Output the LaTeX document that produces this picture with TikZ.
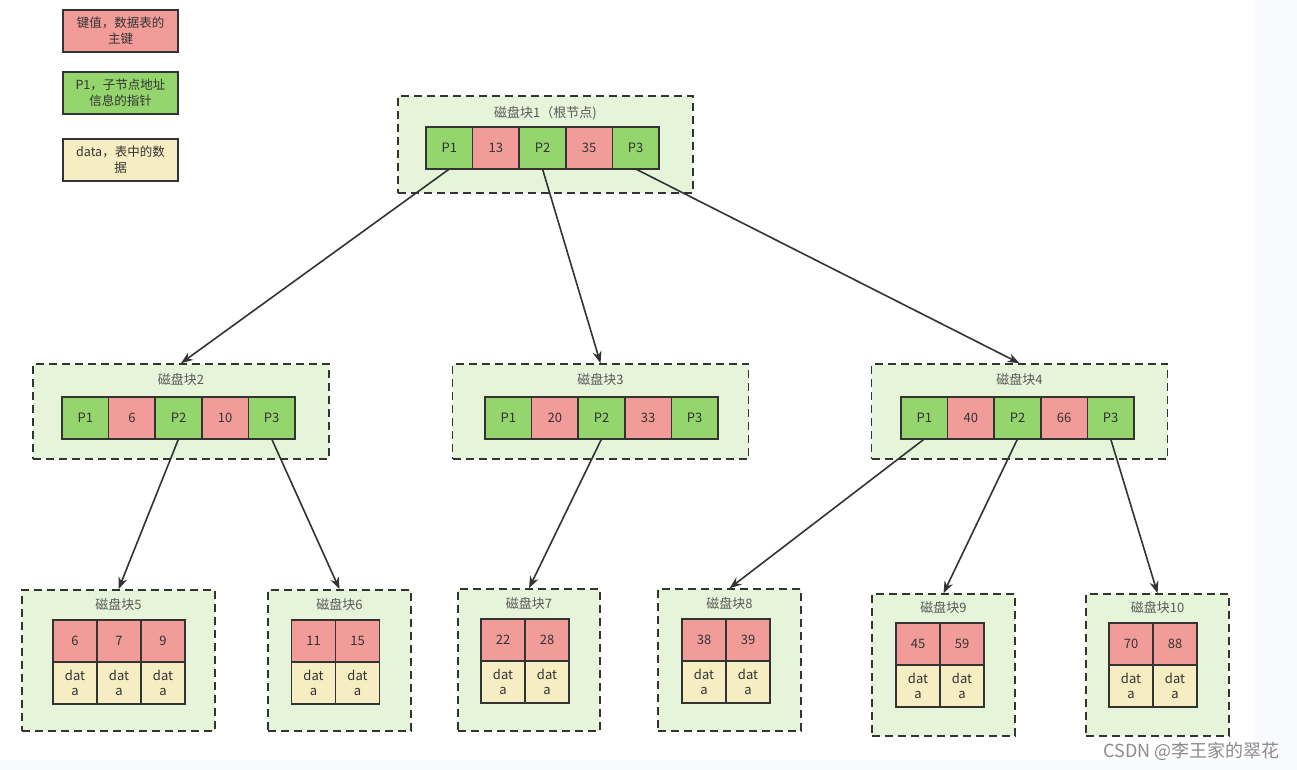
\documentclass[tikz,border=0pt]{standalone}
\usepackage{fontspec}
\setmainfont{Noto Sans CJK SC}
\usetikzlibrary{positioning,arrows.meta}
\definecolor{keyRed}{HTML}{F19C99}
\definecolor{ptrGreen}{HTML}{94D56E}
\definecolor{dataYellow}{HTML}{F7EDC2}
\definecolor{blockFill}{HTML}{E6F4D9}
\definecolor{lineDark}{HTML}{333333}
\definecolor{pageTint}{HTML}{F9FAFE}

\begin{document}
\begin{tikzpicture}[
    x=1pt, y=-1pt,
    cell/.style={rectangle, draw=lineDark, line width=1.5pt, outer sep=0pt, inner sep=0pt, minimum width=46.6pt, minimum height=42pt, text=lineDark, font=\fontsize{13}{15}\selectfont},
    keycell/.style={cell, fill=keyRed},
    ptrcell/.style={cell, fill=ptrGreen},
    leafkey/.style={keycell, minimum width=44pt},
    datacell/.style={cell, fill=dataYellow, minimum width=44pt, align=center},
    block/.style={rectangle, draw=lineDark, fill=blockFill, line width=1.5pt, dash pattern=on 8pt off 5pt},
    blocktitle/.style={text=black!65, font=\fontsize{13}{15}\selectfont},
    legendbox/.style={cell, minimum width=115pt, align=center, font=\fontsize{12.5}{16}\selectfont},
    arrow/.style={-{Stealth[length=12pt,width=9pt]}, line width=1.6pt, draw=lineDark}
]

\useasboundingbox (0,0) rectangle (1297,770);
\fill[white] (0,0) rectangle (1297,770);
\fill[pageTint] (1254,0) rectangle (1297,770);
\fill[pageTint] (0,760) rectangle (1297,770);

% legend
\node[legendbox, fill=keyRed] (lgkey) at (120.5,31) {键值，数据表的\\主键};
\node[legendbox, fill=ptrGreen] (lgptr) at (120.5,93) {P1，子节点地址\\信息的指针};
\node[legendbox, fill=dataYellow] (lgdata) at (120.5,160) {data，表中的数\\据};

% root
\node[block, minimum width=295pt, minimum height=97pt] (blk1) at (545.5,144.5) {};
\node[blocktitle] (t1) at (545.5,113) {磁盘块1（根节点)};
\node[ptrcell] (r1) at (449.3,148) {P1};
\node[keycell, right=0pt of r1] (r2) {13};
\node[ptrcell, right=0pt of r2] (r3) {P2};
\node[keycell, right=0pt of r3] (r4) {35};
\node[ptrcell, right=0pt of r4] (r5) {P3};

% second level
\node[block, minimum width=296pt, minimum height=95pt] (blk2) at (181,411.5) {};
\node[blocktitle] (t2) at (181,380) {磁盘块2};
\node[ptrcell] (a1) at (85.3,418) {P1};
\node[keycell, right=0pt of a1] (a2) {6};
\node[ptrcell, right=0pt of a2] (a3) {P2};
\node[keycell, right=0pt of a3] (a4) {10};
\node[ptrcell, right=0pt of a4] (a5) {P3};

\node[block, minimum width=296pt, minimum height=95pt] (blk3) at (600.5,411.5) {};
\node[blocktitle] (t3) at (600.5,380) {磁盘块3};
\node[ptrcell] (b1) at (508.3,418) {P1};
\node[keycell, right=0pt of b1] (b2) {20};
\node[ptrcell, right=0pt of b2] (b3) {P2};
\node[keycell, right=0pt of b3] (b4) {33};
\node[ptrcell, right=0pt of b4] (b5) {P3};

\node[block, minimum width=296pt, minimum height=95pt] (blk4) at (1019.5,411.5) {};
\node[blocktitle] (t4) at (1019.5,380) {磁盘块4};
\node[ptrcell] (c1) at (924.3,418) {P1};
\node[keycell, right=0pt of c1] (c2) {40};
\node[ptrcell, right=0pt of c2] (c3) {P2};
\node[keycell, right=0pt of c3] (c4) {66};
\node[ptrcell, right=0pt of c4] (c5) {P3};

% leaves
\node[block, minimum width=193pt, minimum height=141pt] (blk5) at (118.5,660.5) {};
\node[blocktitle] (t5) at (118.5,605) {磁盘块5};
\node[leafkey] (k51) at (75,641) {6};
\node[leafkey, right=0pt of k51] (k52) {7};
\node[leafkey, right=0pt of k52] (k53) {9};
\node[datacell, below=0pt of k51] (d51) {dat\\a};
\node[datacell, below=0pt of k52] (d52) {dat\\a};
\node[datacell, below=0pt of k53] (d53) {dat\\a};

\node[block, minimum width=143pt, minimum height=141pt] (blk6) at (339.5,660.5) {};
\node[blocktitle] (t6) at (339.5,605) {磁盘块6};
\node[leafkey] (k61) at (313.5,641) {11};
\node[leafkey, right=0pt of k61] (k62) {15};
\node[datacell, below=0pt of k61] (d61) {dat\\a};
\node[datacell, below=0pt of k62] (d62) {dat\\a};

\node[block, minimum width=142pt, minimum height=142pt] (blk7) at (529,660) {};
\node[blocktitle] (t7) at (529,604) {磁盘块7};
\node[leafkey] (k71) at (503,640) {22};
\node[leafkey, right=0pt of k71] (k72) {28};
\node[datacell, below=0pt of k71] (d71) {dat\\a};
\node[datacell, below=0pt of k72] (d72) {dat\\a};

\node[block, minimum width=143pt, minimum height=142pt] (blk8) at (729.5,660) {};
\node[blocktitle] (t8) at (729.5,604) {磁盘块8};
\node[leafkey] (k81) at (704,640) {38};
\node[leafkey, right=0pt of k81] (k82) {39};
\node[datacell, below=0pt of k81] (d81) {dat\\a};
\node[datacell, below=0pt of k82] (d82) {dat\\a};

\node[block, minimum width=143pt, minimum height=142pt] (blk9) at (943.5,665) {};
\node[blocktitle] (t9) at (943.5,608) {磁盘块9};
\node[leafkey] (k91) at (918,644) {45};
\node[leafkey, right=0pt of k91] (k92) {59};
\node[datacell, below=0pt of k91] (d91) {dat\\a};
\node[datacell, below=0pt of k92] (d92) {dat\\a};

\node[block, minimum width=143pt, minimum height=142pt] (blk10) at (1157.5,665) {};
\node[blocktitle] (t10) at (1157.5,608) {磁盘块10};
\node[leafkey] (k101) at (1131,644) {70};
\node[leafkey, right=0pt of k101] (k102) {88};
\node[datacell, below=0pt of k101] (d101) {dat\\a};
\node[datacell, below=0pt of k102] (d102) {dat\\a};

% pointers
\draw[arrow] (r1.south) -- (blk2.north);
\draw[arrow] (r3.south) -- (blk3.north);
\draw[arrow] (r5.south) -- (blk4.north);
\draw[arrow] (a3.south) -- (blk5.north);
\draw[arrow] (a5.south) -- (blk6.north);
\draw[arrow] (b3.south) -- (blk7.north);
\draw[arrow] (c1.south) -- (blk8.north);
\draw[arrow] (c3.south) -- (blk9.north);
\draw[arrow] (c5.south) -- (blk10.north);

\node[text=black!45, font=\fontsize{18}{20}\selectfont, anchor=east] (mark) at (1283,751) {CSDN @李王家的翠花};

\end{tikzpicture}
\end{document}
